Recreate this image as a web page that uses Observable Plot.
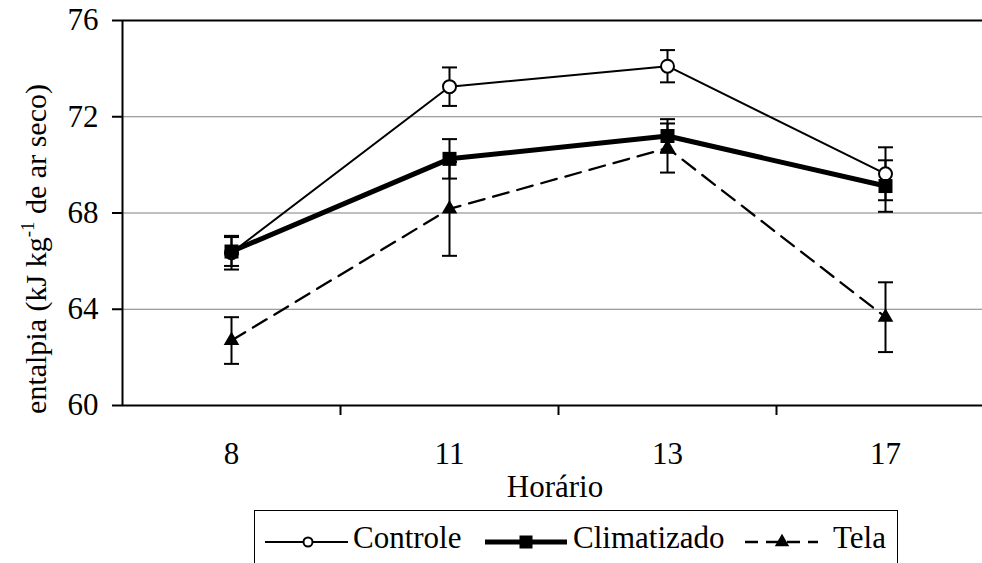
<!DOCTYPE html>
<html><head><meta charset="utf-8">
<script src="https://cdn.jsdelivr.net/npm/d3@7"></script>
<script src="https://cdn.jsdelivr.net/npm/@observablehq/plot@0.6"></script>
<style>
body{margin:0;background:#fff;width:982px;height:563px;overflow:hidden;position:relative;font-family:"Liberation Serif","Times New Roman",serif;}
#chart{position:absolute;left:0;top:0;}
#legend{position:absolute;left:254px;top:510px;}
svg text{font-family:"Liberation Serif","Times New Roman",serif !important;}
</style></head><body><div id="chart"></div><div id="legend"></div>
<script>
const hours = ["8","11","13","17"];
const seriesNames = ["Controle","Climatizado","Tela"];
const controle = [66.35, 73.25, 74.1, 69.63];
const controleErr = [0.7, 0.8, 0.67, 1.1];
const climatizado = [66.4, 70.25, 71.2, 69.12];
const climatizadoErr = [0.6, 0.82, 0.7, 1.07];
const tela = [62.7, 68.17, 70.7, 63.67];
const telaErr = [0.97, 1.95, 1.02, 1.45];
const yTicks = [60, 64, 68, 72, 76];
const yGrid = [64, 68, 72];

const seriesData = [
  {name: seriesNames[0], values: controle, err: controleErr},
  {name: seriesNames[1], values: climatizado, err: climatizadoErr},
  {name: seriesNames[2], values: tela, err: telaErr}
];
const rows = seriesData.flatMap(s => hours.map((h, i) => ({series: s.name, hour: h, x: i + 0.5, value: s.values[i], err: s.err[i]})));
const bySeries = name => rows.filter(d => d.series === name);

const cap = {draw(ctx, size) { ctx.moveTo(-7.5, 0); ctx.lineTo(7.5, 0); }};
const FONT = "'Liberation Serif', 'Times New Roman', serif";

const chart = Plot.plot({
  width: 982, height: 505,
  marginLeft: 122, marginRight: 0, marginTop: 20, marginBottom: 100,
  x: {type: "linear", domain: [0, hours.length], range: [122, 994], axis: null},
  y: {domain: [60, 76], axis: null},
  style: {fontFamily: FONT, fontSize: "31px", color: "#000", background: "#fff", overflow: "visible"},
  marks: [
    Plot.ruleY(yGrid, {stroke: "#808080", strokeWidth: 1}),
    Plot.ruleY([76], {stroke: "#000", strokeWidth: 2}),
    Plot.ruleY([60], {stroke: "#000", strokeWidth: 2}),
    Plot.ruleX([0], {stroke: "#000", strokeWidth: 2}),
    Plot.axisY({ticks: yTicks, tickSize: 10, tickPadding: 14, fontSize: 31, strokeWidth: 2, label: null}),
    Plot.axisX({ticks: [1, 2, 3], tickSize: 10, tickFormat: () => "", strokeWidth: 2, label: null}),
    Plot.axisX({ticks: hours.map((h, i) => i + 0.5), tickSize: 0, tickPadding: 36, fontSize: 31, tickFormat: d => hours[Math.round(d - 0.5)], label: null}),
    Plot.ruleX(rows, {x: "x", y1: d => d.value - d.err, y2: d => d.value + d.err, stroke: "#000", strokeWidth: 2}),
    Plot.dot(rows, {x: "x", y: d => d.value + d.err, symbol: cap, r: 5, stroke: "#000", strokeWidth: 2, fill: "none"}),
    Plot.dot(rows, {x: "x", y: d => d.value - d.err, symbol: cap, r: 5, stroke: "#000", strokeWidth: 2, fill: "none"}),
    Plot.line(bySeries("Controle"), {x: "x", y: "value", stroke: "#000", strokeWidth: 2}),
    Plot.line(bySeries("Climatizado"), {x: "x", y: "value", stroke: "#000", strokeWidth: 5}),
    Plot.line(bySeries("Tela"), {x: "x", y: "value", stroke: "#000", strokeWidth: 2.3, strokeDasharray: "16,9"}),
    Plot.dot(bySeries("Controle"), {x: "x", y: "value", symbol: "circle", r: 6.5, fill: "#fff", stroke: "#000", strokeWidth: 2}),
    Plot.dot(bySeries("Climatizado"), {x: "x", y: "value", symbol: "square", r: 7.9, fill: "#000"}),
    Plot.dot(bySeries("Tela"), {x: "x", y: "value", symbol: "triangle", r: 5.8, fill: "#000"})
  ]
});
document.getElementById("chart").appendChild(chart);

// axis titles
const svg = d3.select(chart);
const yl = svg.append("text")
  .attr("transform", "translate(46,249) rotate(-90)")
  .attr("text-anchor", "middle")
  .attr("font-family", FONT)
  .attr("font-size", 30)
  .attr("fill", "#000");
yl.append("tspan").text("entalpia (kJ kg");
yl.append("tspan").attr("font-size", 19).attr("dy", -12).text("-1");
yl.append("tspan").attr("font-size", 30).attr("dy", 12).text(" de ar seco)");
svg.append("text")
  .attr("x", 555).attr("y", 497)
  .attr("text-anchor", "middle")
  .attr("font-family", FONT)
  .attr("font-size", 31)
  .attr("fill", "#000")
  .text("Horário");

// legend
const lg = d3.select("#legend").append("svg")
  .attr("width", 644).attr("height", 60)
  .style("font-family", FONT);
lg.append("rect").attr("x", 0.5).attr("y", 0.5).attr("width", 643).attr("height", 80)
  .attr("fill", "#fff").attr("stroke", "#000").attr("stroke-width", 1);
const ly = 32, ty = 38;
// Controle
lg.append("line").attr("x1", 11).attr("x2", 94).attr("y1", ly).attr("y2", ly).attr("stroke", "#000").attr("stroke-width", 2);
lg.append("circle").attr("cx", 54).attr("cy", ly).attr("r", 4.5).attr("fill", "#fff").attr("stroke", "#000").attr("stroke-width", 2);
lg.append("text").attr("x", 99).attr("y", ty).attr("font-family", FONT).attr("font-size", 31).text(seriesNames[0]);
// Climatizado
lg.append("line").attr("x1", 231).attr("x2", 313).attr("y1", ly).attr("y2", ly).attr("stroke", "#000").attr("stroke-width", 5);
lg.append("rect").attr("x", 272 - 6.5).attr("y", ly - 6.5).attr("width", 13).attr("height", 13).attr("fill", "#000");
lg.append("text").attr("x", 319).attr("y", ty).attr("font-family", FONT).attr("font-size", 31).text(seriesNames[1]);
// Tela
lg.append("line").attr("x1", 491).attr("x2", 564).attr("y1", ly).attr("y2", ly).attr("stroke", "#000").attr("stroke-width", 2.5).attr("stroke-dasharray", "13,8");
lg.append("path").attr("d", d3.symbol(d3.symbolTriangle, 90)()).attr("transform", `translate(528,${ly})`).attr("fill", "#000");
lg.append("text").attr("x", 579).attr("y", ty).attr("font-family", FONT).attr("font-size", 31).text(seriesNames[2]);
</script>
</body></html>
